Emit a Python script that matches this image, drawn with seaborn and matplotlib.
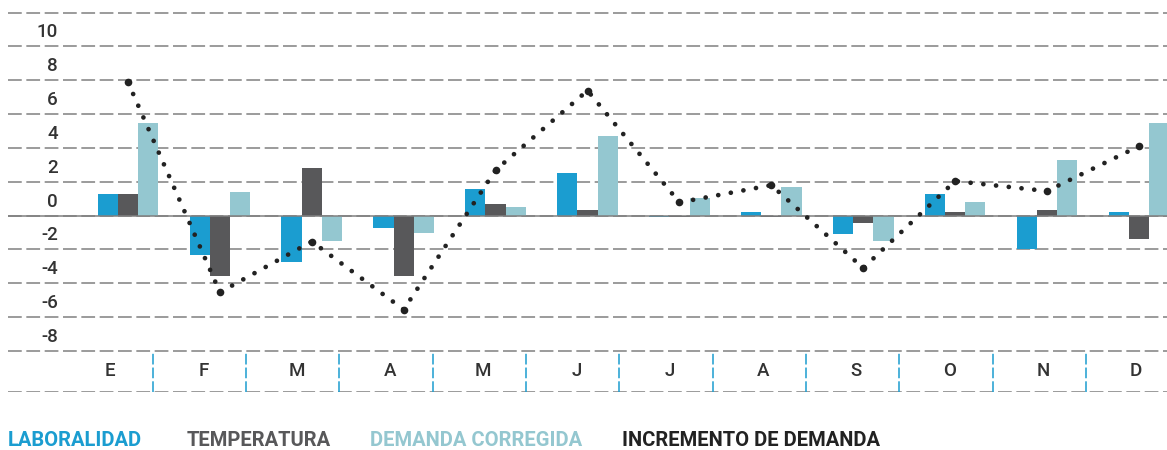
import pandas as pd
import seaborn as sns
import matplotlib.pyplot as plt
from matplotlib.transforms import ScaledTranslation

# data
months = ['Enero', 'Febrero', 'Marzo', 'Abril', 'Mayo', 'Junio',
          'Julio', 'Agosto', 'Septiembre', 'Octubre', 'Noviembre', 'Diciembre']
month_labels = ['E', 'F', 'M', 'A', 'M', 'J', 'J', 'A', 'S', 'O', 'N', 'D']
laboralidad = [1.25, -2.3, -2.75, -0.75, 1.57, 2.53, -0.1, 0.2, -1.08, 1.27, -1.96, 0.2]
temperatura = [1.25, -3.55, 2.82, -3.55, 0.67, 0.33, -0.1, -0.1, -0.41, 0.2, 0.33, -1.37]
demanda_corregida = [5.47, 1.41, -1.49, -1.04, 0.49, 4.69, 1.02, 1.7, -1.49, 0.82, 3.27, 5.47]
incremento = [7.88, -4.53, -1.53, -5.55, 2.69, 7.39, 0.78, 1.8, -3.1, 2.04, 1.45, 4.1]
series_names = ['LABORALIDAD', 'TEMPERATURA', 'DEMANDA CORREGIDA', 'INCREMENTO DE DEMANDA']
series_colors = ['#1b9dd0', '#58585a', '#94c7d0', '#222222']
y_ticks = [-8, -6, -4, -2, 0, 2, 4, 6, 8, 10, 12]

df = pd.DataFrame({
    'mes': months * 3,
    'y': laboralidad + temperatura + demanda_corregida,
    'serie': [series_names[0]] * 12 + [series_names[1]] * 12 + [series_names[2]] * 12,
})
df_line = pd.DataFrame({'mes': months, 'y': incremento})

sns.set_style("white")
plt.rcParams['font.family'] = ['Roboto', 'DejaVu Sans']

fig = plt.figure(figsize=(11.67, 4.5), dpi=100)
W, H = 1167, 450
ax = fig.add_axes([8 / W, 1 - 351 / H, (W - 8) / W, 351 / H])
band = fig.add_axes([8 / W, 1 - 392 / H, (W - 8) / W, 41 / H])

sns.barplot(data=df, x='mes', y='y', hue='serie', order=months,
            hue_order=series_names[:3], palette=series_colors[:3],
            width=0.66, gap=0, saturation=1, linewidth=0, ax=ax, legend=False)
sns.lineplot(data=df_line, x='mes', y='y', color=series_colors[3], sort=False,
             linewidth=3.4, marker='o', markersize=5.5, markeredgewidth=0, ax=ax)
line = ax.lines[-1]
line.set_linestyle((0, (0.01, 2.7)))
line.set_dash_capstyle('round')

ax.set_xlim(-1.306, 11.306)
ax.set_ylim(-8, 12.74)
ax.set_yticks(y_ticks)
ax.set_yticklabels([str(t) if t < 12 else '' for t in y_ticks])
ax.set_xticks([])
ax.set_xlabel("")
ax.set_ylabel("")
ax.grid(axis='y', color='#808080', linestyle=(0, (9, 3)), linewidth=1.1)
ax.axhline(0, color='#808080', linewidth=1.1, zorder=1.5)
ax.set_axisbelow(True)
ax.tick_params(axis='y', length=0, pad=-36, labelsize=13.5, labelcolor='#333333')
for lab in ax.get_yticklabels():
    lab.set_fontweight('medium')
    lab.set_transform(lab.get_transform() + ScaledTranslation(0, 0.16, fig.dpi_scale_trans))
for s in ax.spines.values():
    s.set_visible(False)
ax.patch.set_alpha(0)

# month band below the chart
band.set_xlim(-1.093, 11.33)
band.set_ylim(0, 1)
band.axhline(1, color='#808080', linestyle=(0, (9, 3)), linewidth=1.1)
band.axhline(0, color='#808080', linestyle=(0, (9, 3)), linewidth=1.1)
for i, m in enumerate(month_labels):
    band.text(i, 0.5, m, ha='center', va='center', fontsize=13.5,
              fontweight='medium', color='#333333')
    if i < len(month_labels) - 1:
        band.axvline(i + 0.46, color=series_colors[0], linestyle=(0, (7, 2)), linewidth=1.1)
band.set_xticks([])
band.set_yticks([])
for s in band.spines.values():
    s.set_visible(False)
band.patch.set_alpha(0)

# legend as coloured text
legend_x = [8, 187, 370, 622]
for name, col, x in zip(series_names, series_colors, legend_x):
    fig.text(x / W, 1 - 441 / H, name, color=col, fontsize=14.5, fontweight='bold',
             ha='left', va='center')

plt.savefig('out.png', dpi=100)
